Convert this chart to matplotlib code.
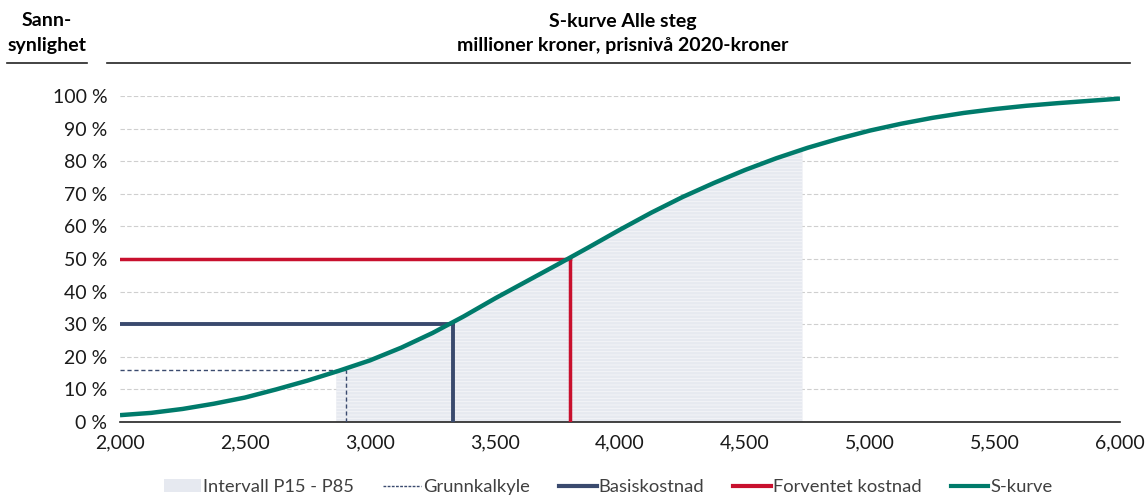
import matplotlib.pyplot as plt
from matplotlib.lines import Line2D
from matplotlib.patches import Patch
import numpy as np

plt.rcParams['font.family'] = ['Lato', 'DejaVu Sans']
plt.rcParams['hatch.linewidth'] = 0.6

# S-curve (cost in MNOK, probability in %)
cost = [2000, 2125, 2250, 2375, 2500, 2625, 2750, 2875, 3000, 3125, 3250,
        3375, 3500, 3625, 3750, 3875, 4000, 4125, 4250, 4375, 4500, 4625,
        4750, 4875, 5000, 5125, 5250, 5375, 5500, 5625, 5750, 5875, 6000]
prob = [2.1, 2.8, 4.0, 5.6, 7.5, 10.0, 12.7, 15.7, 18.9, 22.8, 27.3,
        32.4, 37.9, 43.1, 48.3, 53.6, 59.0, 64.2, 69.0, 73.3, 77.3, 80.9,
        84.1, 86.9, 89.4, 91.5, 93.3, 94.8, 96.0, 97.0, 97.8, 98.5, 99.2]

p15, p85 = 2865, 4730
grunn = (2905, 16)
basis = (3330, 30)
forventet = (3800, 50)

teal = '#007b6b'
red = '#c8102e'
navy = '#3a4a6e'

fig = plt.figure(figsize=(11.47, 4.97), dpi=100)
ax = fig.add_axes([120 / 1147, 75 / 497, 1000 / 1147, 326 / 497])

# shaded P15-P85 interval under the curve
xs = np.array(cost, dtype=float)
ys = np.array(prob)
mask = (xs > p15) & (xs < p85)
fx = np.concatenate([[p15], xs[mask], [p85]])
fy = np.concatenate([[np.interp(p15, xs, ys)], ys[mask], [np.interp(p85, xs, ys)]])
ax.fill_between(fx, 0, fy, facecolor='#e6e9f0', edgecolor='#f5f6f9',
                hatch='-----', linewidth=0, zorder=1)

ax.plot([2000, grunn[0]], [grunn[1], grunn[1]], color=navy, lw=1, ls=(0, (3, 2)), zorder=3)
ax.plot([grunn[0], grunn[0]], [0, grunn[1]], color=navy, lw=1, ls=(0, (3, 2)), zorder=3)
ax.plot([2000, basis[0]], [basis[1], basis[1]], color=navy, lw=2.8, zorder=3)
ax.plot([basis[0], basis[0]], [0, basis[1]], color=navy, lw=2.8, zorder=3)
ax.plot([2000, forventet[0]], [forventet[1], forventet[1]], color=red, lw=2.5, zorder=3)
ax.plot([forventet[0], forventet[0]], [0, forventet[1]], color=red, lw=2.5, zorder=3)

ax.plot(cost, prob, color=teal, lw=3.2, zorder=4, solid_capstyle='butt',
        solid_joinstyle='round')

ax.set_xlim(2000, 6000)
ax.set_ylim(0, 100)
ax.set_xticks(range(2000, 6001, 500))
ax.set_xticklabels([f'{v:,}' for v in range(2000, 6001, 500)])
ax.set_yticks(range(0, 101, 10))
ax.set_yticklabels([f'{v} %' for v in range(0, 101, 10)])
ax.tick_params(length=0, labelsize=14, colors='#1a1a1a', pad=9)
ax.tick_params(axis='x', pad=9)
for s in ['top', 'right', 'left']:
    ax.spines[s].set_visible(False)
ax.spines['bottom'].set_color('#222222')
ax.spines['bottom'].set_linewidth(1.2)
ax.grid(axis='y', color='#cfcfcf', ls=(0, (4, 2)), lw=0.8)
ax.set_axisbelow(True)

# header
hs = 14
fig.text(47 / 1147, 1 - 21 / 497, 'Sann-', ha='center', va='center',
         fontsize=hs, fontweight='bold')
fig.text(47 / 1147, 1 - 45 / 497, 'synlighet', ha='center', va='center',
         fontsize=hs, fontweight='bold')
fig.text(623 / 1147, 1 - 21 / 497, 'S-kurve Alle steg', ha='center', va='center',
         fontsize=hs, fontweight='bold')
fig.text(623 / 1147, 1 - 45 / 497, 'millioner kroner, prisnivå 2020-kroner',
         ha='center', va='center', fontsize=hs, fontweight='bold')
fig.add_artist(Line2D([7 / 1147, 87 / 1147], [1 - 63 / 497] * 2, color='#222222', lw=1.2))
fig.add_artist(Line2D([107 / 1147, 1130 / 1147], [1 - 63 / 497] * 2, color='#222222', lw=1.2))

handles = [
    Patch(facecolor='#e6e9f0', edgecolor='none'),
    Line2D([], [], color=navy, lw=1, ls=(0, (2, 1))),
    Line2D([], [], color=navy, lw=3),
    Line2D([], [], color=red, lw=3),
    Line2D([], [], color=teal, lw=3),
]
labels = ['Intervall P15 - P85', 'Grunnkalkyle', 'Basiskostnad',
          'Forventet kostnad', 'S-kurve']
fig.legend(handles, labels, loc='center', bbox_to_anchor=(608 / 1147, 1 - 487 / 497),
           ncol=5, frameon=False, fontsize=13.2, handlelength=2.05,
           handletextpad=0.1, columnspacing=1.6, labelcolor='#404040')

fig.savefig('out.png', dpi=100)
